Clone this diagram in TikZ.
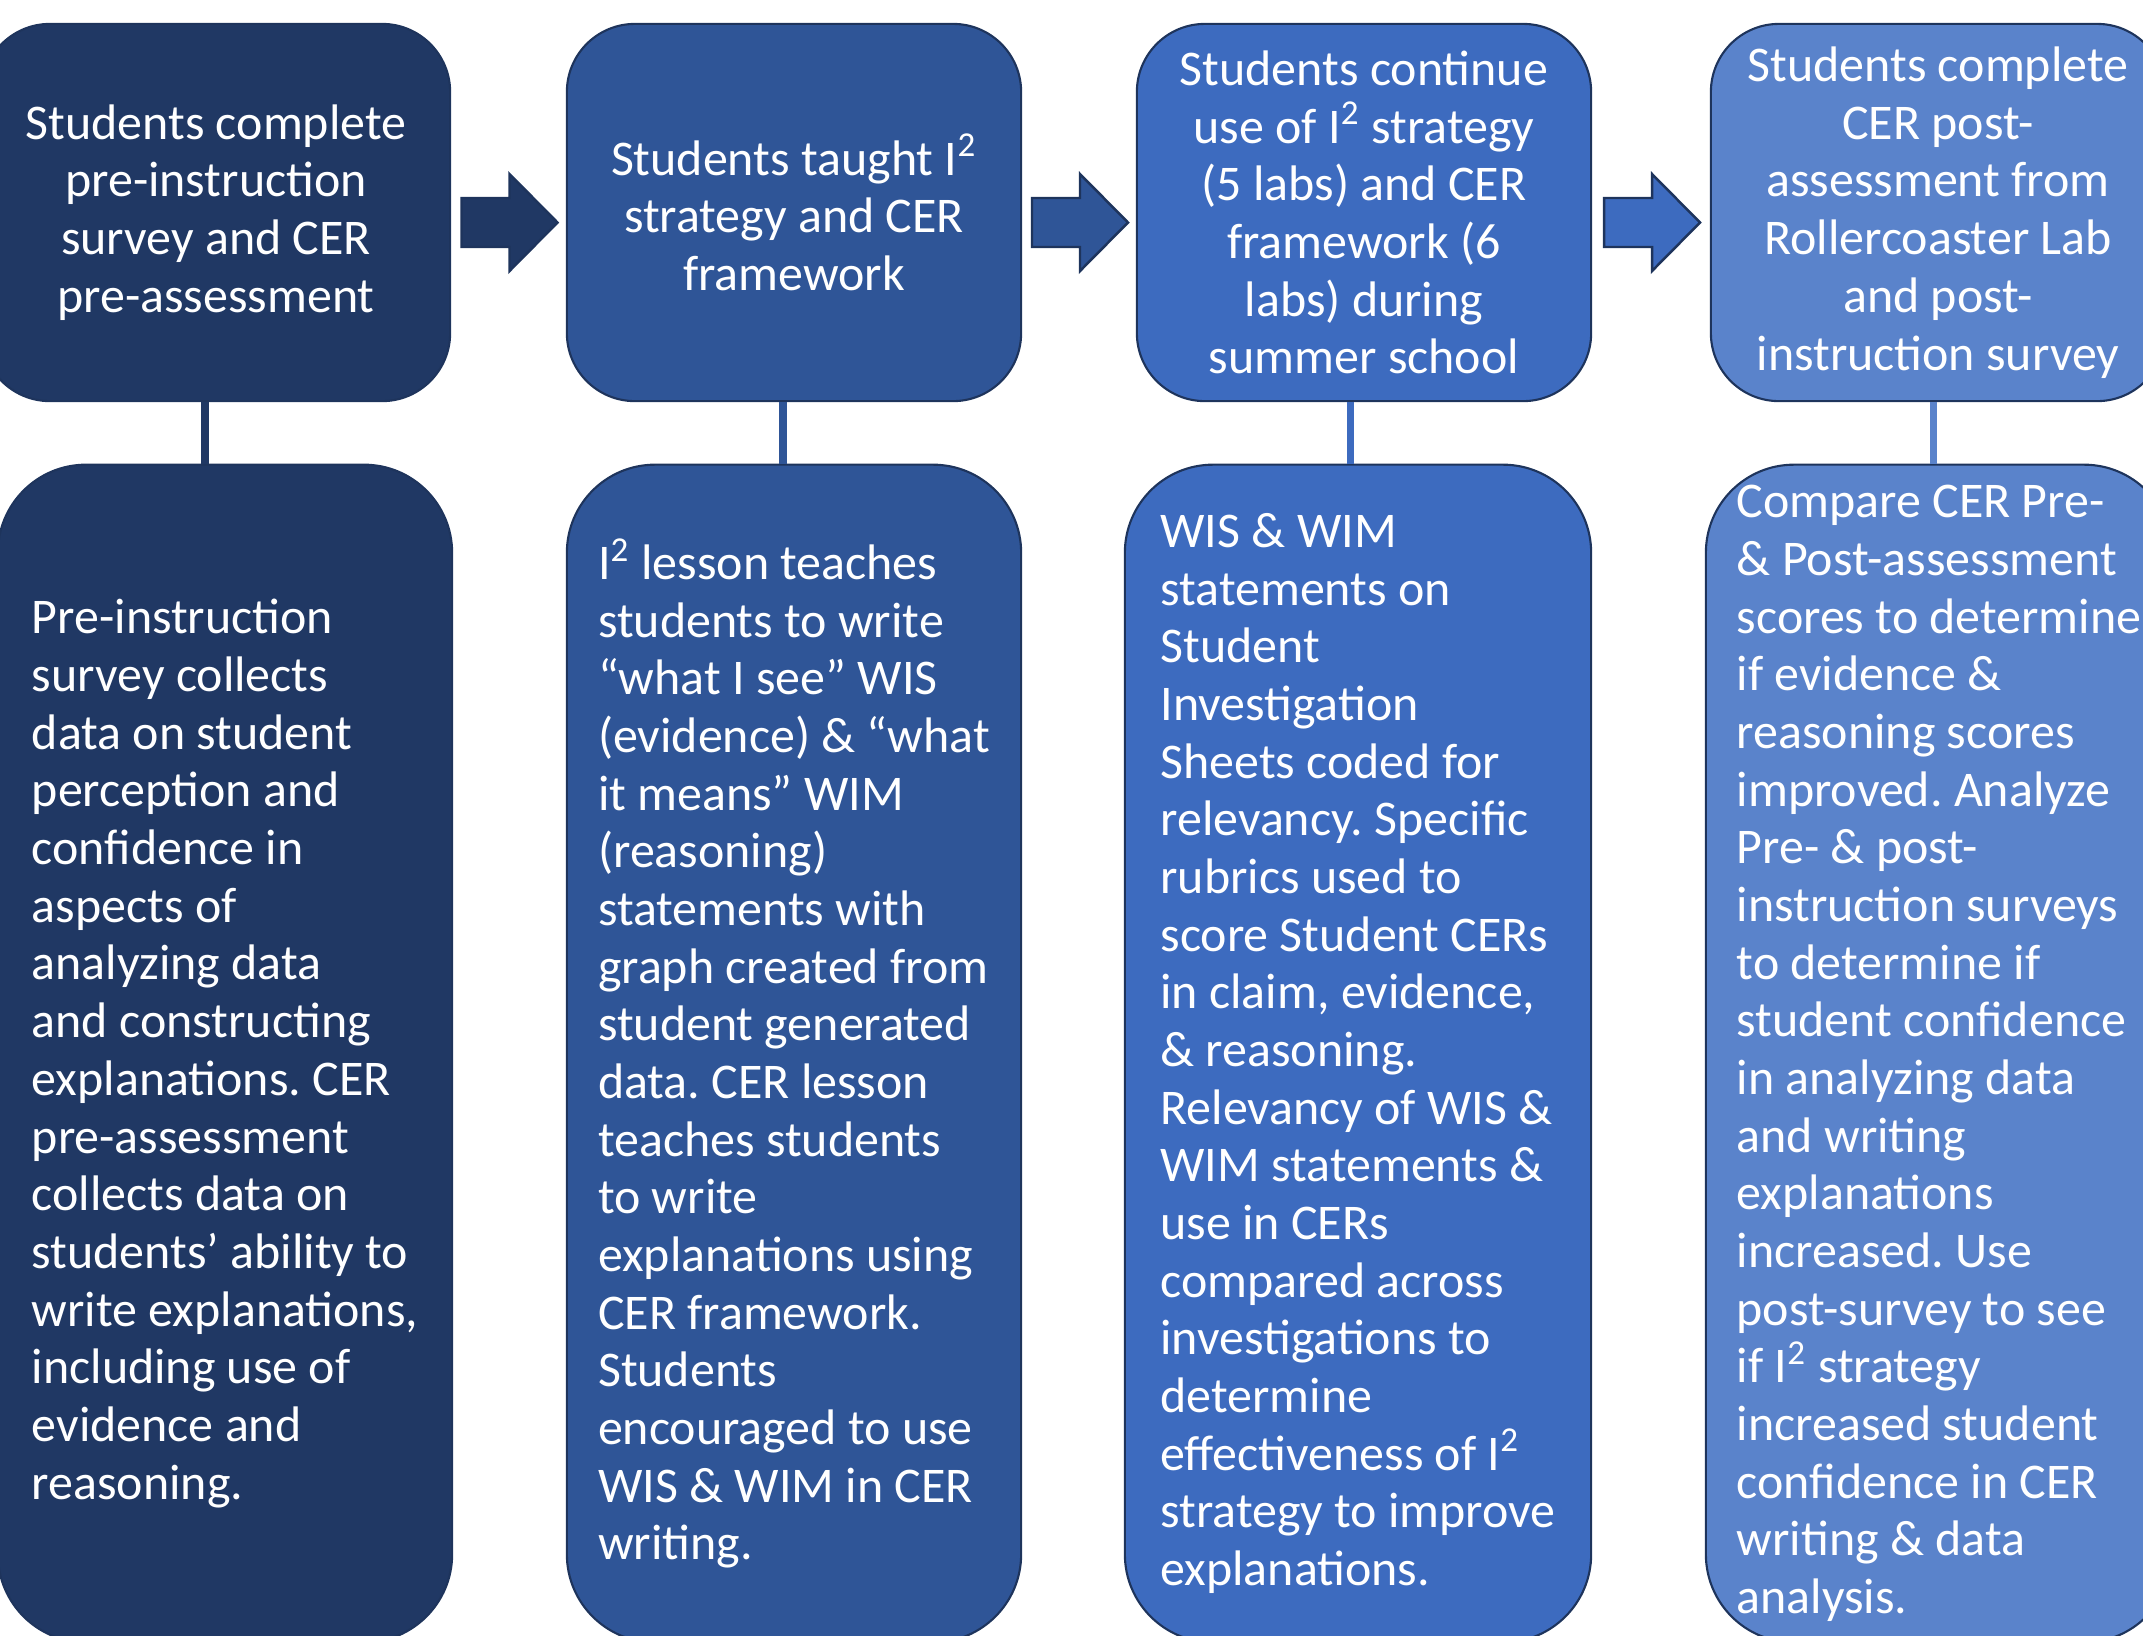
\documentclass[tikz,border=0pt]{standalone}
\usepackage{fontspec}
\setmainfont{Carlito}
\usetikzlibrary{calc}
\definecolor{stepone}{RGB}{32,56,100}
\definecolor{steptwo}{RGB}{47,85,151}
\definecolor{stepthree}{RGB}{61,107,191}
\definecolor{stepfour}{RGB}{90,131,203}
\definecolor{outline}{RGB}{30,52,92}

\tikzset{
	boxtext/.style={text=white, font=\fontsize{14.2}{16.4}\selectfont\frenchspacing},
	topbox/.style={boxtext, draw=outline, line width=0.6pt, rounded corners=0.68cm,
		align=center, inner sep=0pt, minimum width=4.54cm, minimum height=3.77cm},
	bottombox/.style={boxtext, draw=outline, line width=0.6pt, rounded corners=0.88cm,
		align=left, inner sep=0pt, minimum width=#1, minimum height=11.77cm},
	bottombox/.default=4.54cm,
	blockarrow/.style={draw=outline, line width=0.7pt, line join=miter},
	link/.style={line width=2pt}
}

\begin{document}
\begin{tikzpicture}[x=0.01cm, y=-0.01cm]
	\clip (0,0) rectangle (2143,1635);

	% steps
	\node[topbox, fill=stepone, minimum width=4.68cm] (t1) at (216,212.5) {Students complete\\pre-instruction\\survey and CER\\pre-assessment};
	\node[topbox, fill=steptwo] (t2) at (794,212.5) {Students taught I\textsuperscript{2}\\strategy and CER\\framework};
	\node[topbox, fill=stepthree] (t3) at (1364,212.5) {Students continue\\use of I\textsuperscript{2} strategy\\(5 labs) and CER\\framework (6\\labs) during\\summer school};
	\node[topbox, fill=stepfour] (t4) at (1938,212.5) {Students complete\\CER post-\\assessment from\\Rollercoaster Lab\\and post-\\instruction survey};

	% details
	\node[bottombox, fill=stepone] (b1) at (225,1053.5) {Pre-instruction\\survey collects\\data on student\\perception and\\confidence in\\aspects of\\analyzing data\\and constructing\\explanations. CER\\pre-assessment\\collects data on\\students’ ability to\\write explanations,\\including use of\\evidence and\\reasoning.};
	\node[bottombox, fill=steptwo] (b2) at (794,1053.5) {I\textsuperscript{2} lesson teaches\\students to write\\“what I see” WIS\\(evidence) \& “what\\it means” WIM\\(reasoning)\\statements with\\graph created from\\student generated\\data. CER lesson\\teaches students\\to write\\explanations using\\CER framework.\\Students\\encouraged to use\\WIS \& WIM in CER\\writing.};
	\node[bottombox=4.66cm, fill=stepthree] (b3) at (1358,1053.5) {WIS \& WIM\\statements on\\Student\\Investigation\\Sheets coded for\\relevancy. Specific\\rubrics used to\\score Student CERs\\in claim, evidence,\\\& reasoning.\\Relevancy of WIS \&\\WIM statements \&\\use in CERs\\compared across\\investigations to\\determine\\effectiveness of I\textsuperscript{2}\\strategy to improve\\explanations.};
	\node[bottombox=4.66cm, fill=stepfour] (b4) at (1939,1053.5) {Compare CER Pre-\\\& Post-assessment\\scores to determine\\if evidence \&\\reasoning scores\\improved. Analyze\\Pre- \& post-\\instruction surveys\\to determine if\\student confidence\\in analyzing data\\and writing\\explanations\\increased. Use\\post-survey to see\\if I\textsuperscript{2} strategy\\increased student\\confidence in CER\\writing \& data\\analysis.};

	% step to detail
	\foreach \i/\s/\c in {1/-11/stepone, 2/-11/steptwo, 3/-14/stepthree, 4/-5/stepfour}
		\draw[link, \c] ([xshift=\s*0.01cm]t\i.south) -- ([xshift=\s*0.01cm]t\i.south |- b\i.north);

	% arrows between steps
	\foreach \a/\b/\c in {t1/t2/stepone, t2/t3/steptwo, t3/t4/stepthree}
		\draw[blockarrow, fill=\c] ($(\a.east)!0.5!(\b.west)$) ++(-47,-14.5) -- ++(48,0) -- ++(0,-24)
			-- ++(48,48.5) -- ++(-48,48.5) -- ++(0,-24) -- ++(-48,0) -- cycle;
\end{tikzpicture}
\end{document}
